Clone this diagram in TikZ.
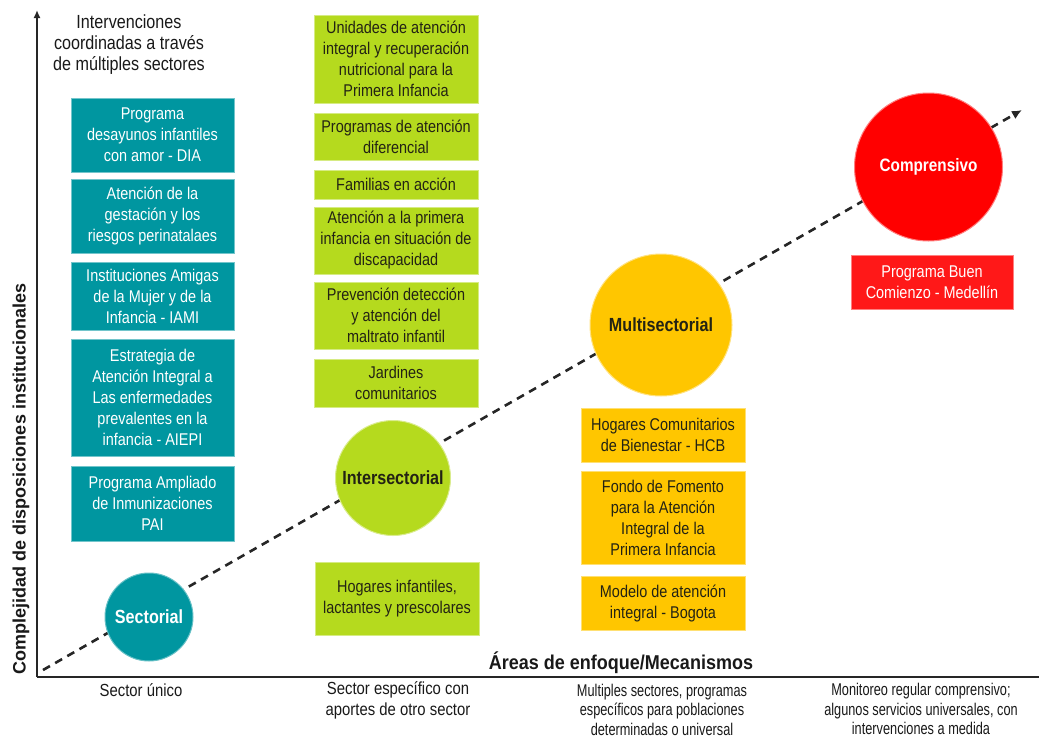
\documentclass[tikz,border=0pt]{standalone}
\usepackage{fontspec}
\setmainfont{Liberation Sans}[FakeStretch=0.85]
\newfontfamily\narrowfam{Liberation Sans}[FakeStretch=0.75]
\newfontfamily\axisfam{Liberation Sans}[FakeStretch=0.9]
\newfontfamily\widefam{Liberation Sans}
\usetikzlibrary{arrows.meta}
\definecolor{tealc}{RGB}{0,150,160}
\definecolor{limec}{RGB}{181,218,30}
\definecolor{orangec}{RGB}{255,198,0}
\definecolor{redc}{RGB}{255,0,0}
\definecolor{redbx}{RGB}{255,24,24}
\definecolor{darktext}{RGB}{35,35,20}
\begin{document}
\begin{tikzpicture}[x=1pt,y=-1pt,
  bx/.style={rectangle, inner sep=0pt, align=center,
    font=\fontsize{17}{21}\selectfont, line width=0.8pt},
  tealbox/.style={bx, fill=tealc, draw=tealc!55!white, text=white,
    minimum width=163pt, minimum height=#1},
  greenbox/.style={bx, fill=limec, draw=limec!55!white, text=darktext,
    minimum width=164pt, minimum height=#1},
  orangebox/.style={bx, fill=orangec, draw=orangec!55!white, text=darktext,
    minimum width=164pt, minimum height=#1},
  redbox/.style={bx, fill=redbx, draw=redbx!55!white, text=white,
    minimum width=162pt, minimum height=#1},
  circ/.style={circle, inner sep=0pt, line width=1pt,
    font=\bfseries\fontsize{19}{21}\selectfont},
  axisline/.style={line width=2pt, draw=black!85},
  dashline/.style={line width=2.6pt, draw=black!85,
    dash pattern=on 8pt off 6pt},
  header/.style={align=center, text=black!90, font=\fontsize{19}{21}\selectfont},
  botlabel/.style={align=center, text=black!90, font=\fontsize{17.5}{21}\selectfont},
  botnarrow/.style={align=center, text=black!90, font=\narrowfam\fontsize{17}{19.5}\selectfont}
]
\useasboundingbox (0,0) rectangle (1039,739);

% axes
\coordinate (origin) at (37,677);
\coordinate (ytop) at (37,10);
\coordinate (xend) at (1039,677);
\draw[axisline, -{Latex[length=8pt,width=7pt]}] (origin) -- (ytop);
\draw[axisline] (origin) -- (xend);

% dashed trend arrow
\coordinate (ds) at (43,670);
\coordinate (de) at (1022,110);
\draw[dashline, -{Latex[length=10pt,width=9pt]}] (ds) -- (de);

% axis labels
\node[rotate=90, font=\widefam\bfseries\fontsize{18}{20}\selectfont, text=black!90] (ylab) at (21,479)
  {Complejidad de disposiciones institucionales};
\node[font=\axisfam\bfseries\fontsize{20}{22}\selectfont, text=black!90] (xlab) at (621,663)
  {Áreas de enfoque/Mecanismos};

% header
\node[header] (head) at (129,45) {Intervenciones\\coordinadas a través\\de múltiples sectores};

% teal column
\node[tealbox=74pt] (t1) at (152.5,135) {Programa\\desayunos infantiles\\con amor - DIA};
\node[tealbox=74pt] (t2) at (152.5,216) {Atención de la\\gestación y los\\riesgos perinatalaes};
\node[tealbox=68pt] (t3) at (152.5,296) {Instituciones Amigas\\de la Mujer y de la\\Infancia - IAMI};
\node[tealbox=117pt] (t4) at (152.5,397.5) {Estrategia de\\Atención Integral a\\Las enfermedades\\prevalentes en la\\infancia - AIEPI};
\node[tealbox=75pt] (t5) at (152.5,503.5) {Programa Ampliado\\de Inmunizaciones\\PAI};

% green column
\node[greenbox=88pt] (g1) at (396,59) {Unidades de atención\\integral y recuperación\\nutricional para la\\Primera Infancia};
\node[greenbox=47pt] (g2) at (396,136.5) {Programas de atención\\diferencial};
\node[greenbox=29pt] (g3) at (396,184.5) {Familias en acción};
\node[greenbox=67pt] (g4) at (396,240.5) {Atención a la primera\\infancia en situación de\\discapacidad};
\node[greenbox=67pt] (g5) at (396,315.5) {Prevención detección\\y atención del\\maltrato infantil};
\node[greenbox=48pt] (g6) at (396,383) {Jardines\\comunitarios};
\node[greenbox=73pt] (g7) at (397,598.5) {Hogares infantiles,\\lactantes y prescolares};

% orange column
\node[orangebox=54pt] (o1) at (663,435) {Hogares Comunitarios\\de Bienestar - HCB};
\node[orangebox=93pt] (o2) at (663,517.5) {Fondo de Fomento\\para la Atención\\Integral de la\\Primera Infancia};
\node[orangebox=54pt] (o3) at (663,603) {Modelo de atención\\integral - Bogota};

% red box
\node[redbox=54pt] (r1) at (932,282) {Programa Buen\\Comienzo - Medellín};

% circles
\node[circ, fill=tealc, draw=tealc!60!white, text=white, minimum size=88pt] (sect) at (149,617) {Sectorial};
\node[circ, fill=limec, draw=limec!50!white, text=darktext, minimum size=115pt] (inter) at (393,478) {Intersectorial};
\node[circ, fill=orangec, draw=orangec!50!white, text=darktext, minimum size=142pt] (multi) at (661,325) {Multisectorial};
\node[circ, fill=redc, draw=redc!50!white, text=white, minimum size=148pt,
  font=\bfseries\fontsize{18}{21}\selectfont] (comp) at (928.5,167) {Comprensivo};

% bottom labels
\node[botlabel] (b1) at (141,690) {Sector único};
\node[botlabel] (b2) at (398,700.5) {Sector específico con\\aportes de otro sector};
\node[botnarrow] (b3) at (662,709.5) {Multiples sectores, programas\\específicos para poblaciones\\determinadas o universal};
\node[botnarrow] (b4) at (921,709) {Monitoreo regular comprensivo;\\algunos servicios universales, con\\intervenciones a  medida};
\end{tikzpicture}
\end{document}
